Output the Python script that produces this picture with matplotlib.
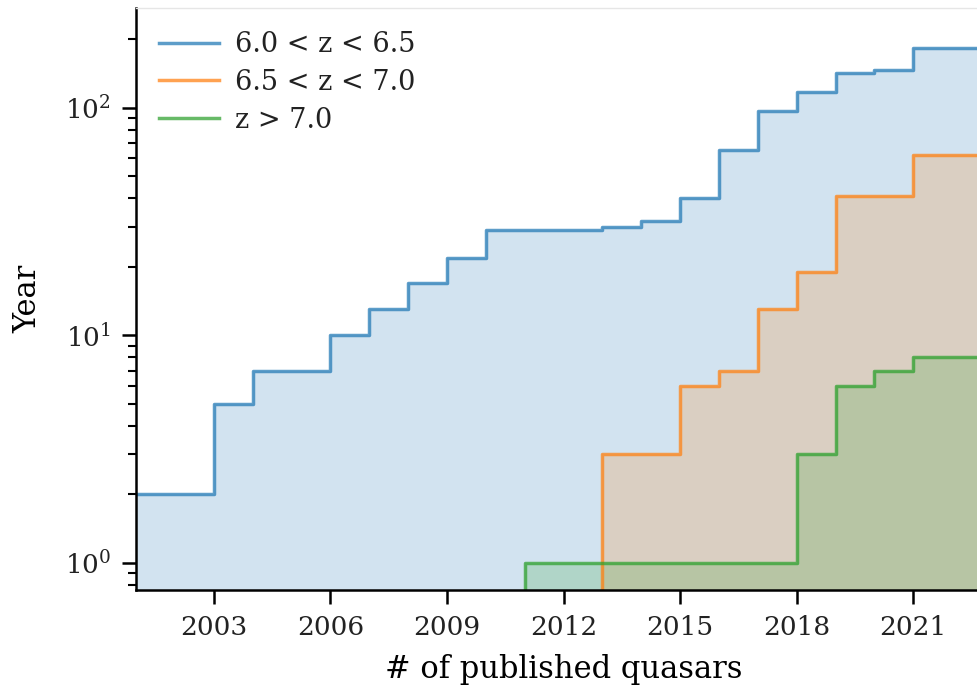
import matplotlib
matplotlib.use("Agg")
import matplotlib.pyplot as plt
import numpy as np

# Data (cumulative counts per year)
years = [2001, 2002, 2003, 2004, 2005, 2006, 2007, 2008, 2009, 2010, 2011,
         2012, 2013, 2014, 2015, 2016, 2017, 2018, 2019, 2020, 2021, 2023]
low_z = [2, 2, 5, 7, 7, 10, 13, 17, 22, 29, 29,
         29, 30, 32, 40, 65, 97, 118, 143, 147, 183, 183]
mid_z = [0, 0, 0, 0, 0, 0, 0, 0, 0, 0, 0,
         0, 3, 3, 6, 7, 13, 19, 41, 41, 62, 62]
high_z = [0, 0, 0, 0, 0, 0, 0, 0, 0, 0, 1,
          1, 1, 1, 1, 1, 1, 3, 6, 7, 8, 8]
labels = ["6.0 < z < 6.5", "6.5 < z < 7.0", "z > 7.0"]
xticks = [2003, 2006, 2009, 2012, 2015, 2018, 2021]

plt.rcParams['font.family'] = ['DejaVu Serif']

fig = plt.figure(figsize=(9.78, 6.88), dpi=100)
ax = fig.add_axes([136/978, 98/688, (991-136)/978, (590-8)/688])

colors = ['#1f77b4', '#ff7f0e', '#2ca02c']
for vals, lab, c in zip([low_z, mid_z, high_z], labels, colors):
    ax.step(years, vals, where='post', color=c, alpha=0.72, lw=2.5, label=lab)
    ax.fill_between(years, vals, 0, step='post', color=c, alpha=0.2, lw=0)

ax.set_yscale('log')
ax.set_xlim(2001, 2023)
ax.set_ylim(0.76, 275)
ax.set_xticks(xticks)
ax.set_xticklabels([str(t) for t in xticks])

ax.set_xlabel('# of published quasars', fontsize=22, labelpad=10)
ax.set_ylabel('Year', fontsize=22, labelpad=15)
ax.tick_params(axis='both', which='major', labelsize=19, length=10, width=1.8,
               direction='out', pad=8, labelcolor='#222222')
ax.tick_params(axis='y', which='minor', length=5.5, width=1.5)

for s in ['left', 'bottom']:
    ax.spines[s].set_linewidth(1.8)
ax.spines['right'].set_visible(False)
ax.spines['top'].set_color('#e6e6e6')
ax.spines['top'].set_linewidth(1.0)

leg = ax.legend(loc='upper left', frameon=False, fontsize=19.5, handlelength=2.2,
                handletextpad=0.6, borderaxespad=0.45, labelspacing=0.4)
for t in leg.get_texts():
    t.set_color('#222222')

fig.savefig('out.png', dpi=100)
